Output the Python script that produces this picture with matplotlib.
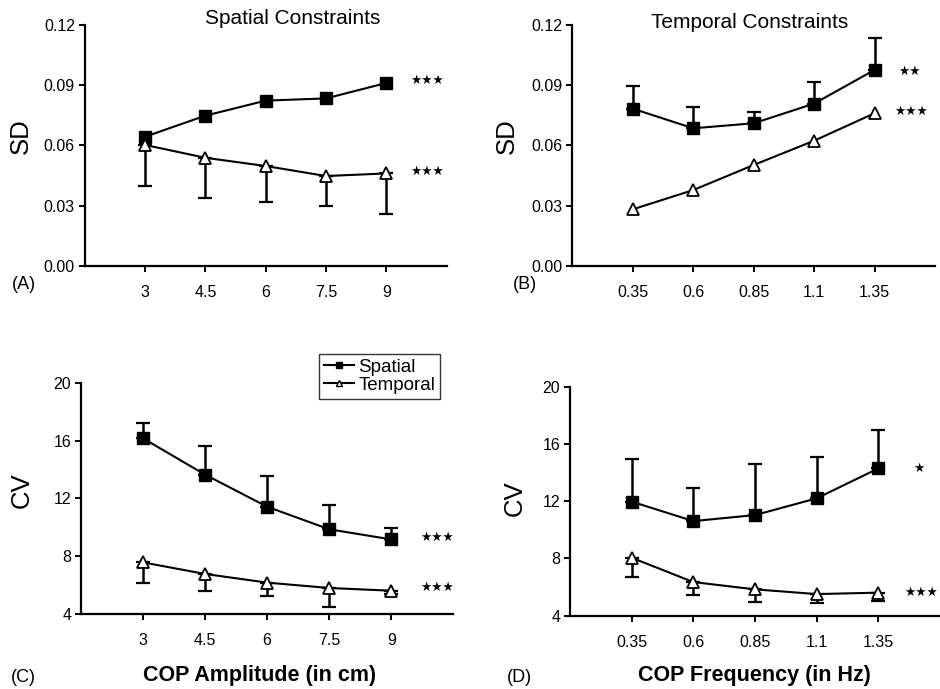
import matplotlib
matplotlib.use("Agg")
import matplotlib.pyplot as plt
import numpy as np

plt.rcParams['font.family'] = ['Liberation Sans', 'DejaVu Sans']

# ---- data ----
amp = [3, 4.5, 6, 7.5, 9]
amp_labels = ['3', '4.5', '6', '7.5', '9']
freq = [0.35, 0.6, 0.85, 1.1, 1.35]
freq_labels = ['0.35', '0.6', '0.85', '1.1', '1.35']

# Panel A: SD, spatial constraints
sdA_spatial = [0.0643, 0.0748, 0.0823, 0.0834, 0.0911]
sdA_temporal = [0.0602, 0.0538, 0.0497, 0.0447, 0.0460]
sdA_temporal_low = [0.0397, 0.0339, 0.0316, 0.0297, 0.0256]

# Panel B: SD, temporal constraints
sdB_spatial = [0.0783, 0.0685, 0.0710, 0.0808, 0.0976]
sdB_spatial_high = [0.0894, 0.0793, 0.0765, 0.0916, 0.1135]
sdB_temporal = [0.0281, 0.0377, 0.0502, 0.0623, 0.0760]

# Panel C: CV, amplitude
cvC_spatial = [16.15, 13.64, 11.42, 9.86, 9.16]
cvC_spatial_high = [17.19, 15.60, 13.54, 11.54, 9.97]
cvC_temporal = [7.57, 6.77, 6.17, 5.80, 5.61]
cvC_temporal_low = [6.12, 5.61, 5.22, 4.46, 5.35]

# Panel D: CV, frequency
cvD_spatial = [11.97, 10.61, 11.03, 12.20, 14.29]
cvD_spatial_high = [14.95, 12.94, 14.60, 15.09, 17.00]
cvD_temporal = [8.05, 6.35, 5.84, 5.51, 5.61]
cvD_temporal_low = [6.73, 5.47, 4.96, 4.91, 5.03]

W, H = 940, 689
fig = plt.figure(figsize=(W / 100, H / 100), dpi=100)


def px_axes(l, t, r, b):
    return fig.add_axes([l / W, 1 - b / H, (r - l) / W, (b - t) / H])


def style(ax, xt, xl, xlim, ylim, yticks, yfmt):
    ax.set_xlim(*xlim)
    ax.set_ylim(*ylim)
    ax.set_xticks(xt)
    ax.set_xticklabels(xl)
    ax.set_yticks(yticks)
    ax.set_yticklabels([yfmt.format(v) for v in yticks])
    for s in ['top', 'right']:
        ax.spines[s].set_visible(False)
    for s in ['left', 'bottom']:
        ax.spines[s].set_linewidth(1.6)
    ax.tick_params(direction='out', length=4, width=1.4, labelsize=11.5)
    ax.tick_params(axis='y', pad=3)
    ax.tick_params(axis='x', pad=10)


mk_sq = dict(marker='s', markersize=9, color='black', mfc='black', mec='black', lw=1.5)
mk_tr = dict(marker='^', markersize=9, color='black', mfc='white', mec='black', lw=1.5, mew=1.3)
eb = dict(fmt='none', ecolor='black', elinewidth=1.8, capsize=5, capthick=1.6)


def plot_series(ax, x, y, low=None, high=None, square=True):
    y = np.array(y)
    if low is not None:
        ax.errorbar(x, y, yerr=[y - np.array(low), np.zeros_like(y)], zorder=2, **eb)
    if high is not None:
        ax.errorbar(x, y, yerr=[np.zeros_like(y), np.array(high) - y], zorder=2, **eb)
    ax.plot(x, y, zorder=3, **(mk_sq if square else mk_tr))


star_kw = dict(family='DejaVu Sans', fontsize=9, ha='center', va='center', color='black')
ylab_kw = dict(fontsize=18.5)


def place_ylabel(ax, text, l, r, xr_px, yc_frac):
    ax.set_ylabel(text, **ylab_kw)
    ax.yaxis.set_label_coords((xr_px - l) / (r - l), yc_frac)


# ---- Panel A ----
axA = px_axes(84.7, 25, 446.7, 265.7)
plot_series(axA, amp, sdA_spatial, square=True)
plot_series(axA, amp, sdA_temporal, low=sdA_temporal_low, square=False)
style(axA, amp, amp_labels, (1.5, 10.5), (0, 0.12), [0, 0.03, 0.06, 0.09, 0.12], '{:.2f}')
place_ylabel(axA, 'SD', 84.7, 446.7, 33, 0.54)
fig.text(293 / W, 1 - 19 / H, 'Spatial Constraints', ha='center', va='center', fontsize=15)
axA.text(10.0, 0.0924, '★★★', **star_kw)
axA.text(10.0, 0.0470, '★★★', **star_kw)
fig.text(24 / W, 1 - 285 / H, '(A)', ha='center', va='center', fontsize=13)

# ---- Panel B ----
axB = px_axes(572.3, 25, 935, 265.7)
plot_series(axB, freq, sdB_spatial, high=sdB_spatial_high, square=True)
plot_series(axB, freq, sdB_temporal, square=False)
style(axB, freq, freq_labels, (0.1, 1.6), (0, 0.12), [0, 0.03, 0.06, 0.09, 0.12], '{:.2f}')
place_ylabel(axB, 'SD', 572.3, 935, 519, 0.54)
fig.text(750 / W, 1 - 22 / H, 'Temporal Constraints', ha='center', va='center', fontsize=15)
axB.text(1.496, 0.0969, '★★', **star_kw)
axB.text(1.50, 0.0770, '★★★', **star_kw)
fig.text(525 / W, 1 - 285 / H, '(B)', ha='center', va='center', fontsize=13)

# ---- Panel C ----
axC = px_axes(81, 382.7, 453.3, 614)
plot_series(axC, amp, cvC_spatial, high=cvC_spatial_high, square=True)
plot_series(axC, amp, cvC_temporal, low=cvC_temporal_low, square=False)
style(axC, amp, amp_labels, (1.5, 10.5), (4, 20), [4, 8, 12, 16, 20], '{:.0f}')
place_ylabel(axC, 'CV', 81, 453.3, 34, 0.536)
axC.set_xlabel('COP Amplitude (in cm)', fontsize=15.5, fontweight='bold')
axC.xaxis.set_label_coords((260 - 81) / 372.3, -(665 - 614) / 231.3)
axC.text(10.1, 9.3, '★★★', **star_kw)
axC.text(10.1, 5.85, '★★★', **star_kw)
fig.text(23 / W, 1 - 677 / H, '(C)', ha='center', va='center', fontsize=13)
hS, = axC.plot([], [], marker='s', markersize=5, color='black', lw=1.5)
hT, = axC.plot([], [], marker='^', markersize=5, color='black', mfc='white', lw=1.5)
leg = axC.legend([hS, hT], ['Spatial', 'Temporal'], loc='upper left',
                 bbox_to_anchor=((319 - 81) / 372.3, (614 - 354) / 231.3),
                 fontsize=13.5, frameon=True, fancybox=False, edgecolor='black',
                 handlelength=1.6, handletextpad=0.25, borderpad=0.25, labelspacing=0.05,
                 borderaxespad=0)
leg.get_frame().set_linewidth(1.0)

# ---- Panel D ----
axD = px_axes(570, 386.7, 940, 615.7)
plot_series(axD, freq, cvD_spatial, high=cvD_spatial_high, square=True)
plot_series(axD, freq, cvD_temporal, low=cvD_temporal_low, square=False)
style(axD, freq, freq_labels, (0.1, 1.6), (4, 20), [4, 8, 12, 16, 20], '{:.0f}')
place_ylabel(axD, 'CV', 570, 940, 527, 0.514)
axD.set_xlabel('COP Frequency (in Hz)', fontsize=15.5, fontweight='bold')
axD.xaxis.set_label_coords((754 - 570) / 370, -(665 - 615.7) / 229)
axD.text(1.515, 14.3, '★', **star_kw)
axD.text(1.525, 5.6, '★★★', clip_on=False, **star_kw)
fig.text(519 / W, 1 - 677 / H, '(D)', ha='center', va='center', fontsize=13)

fig.savefig('out.png', dpi=100)
